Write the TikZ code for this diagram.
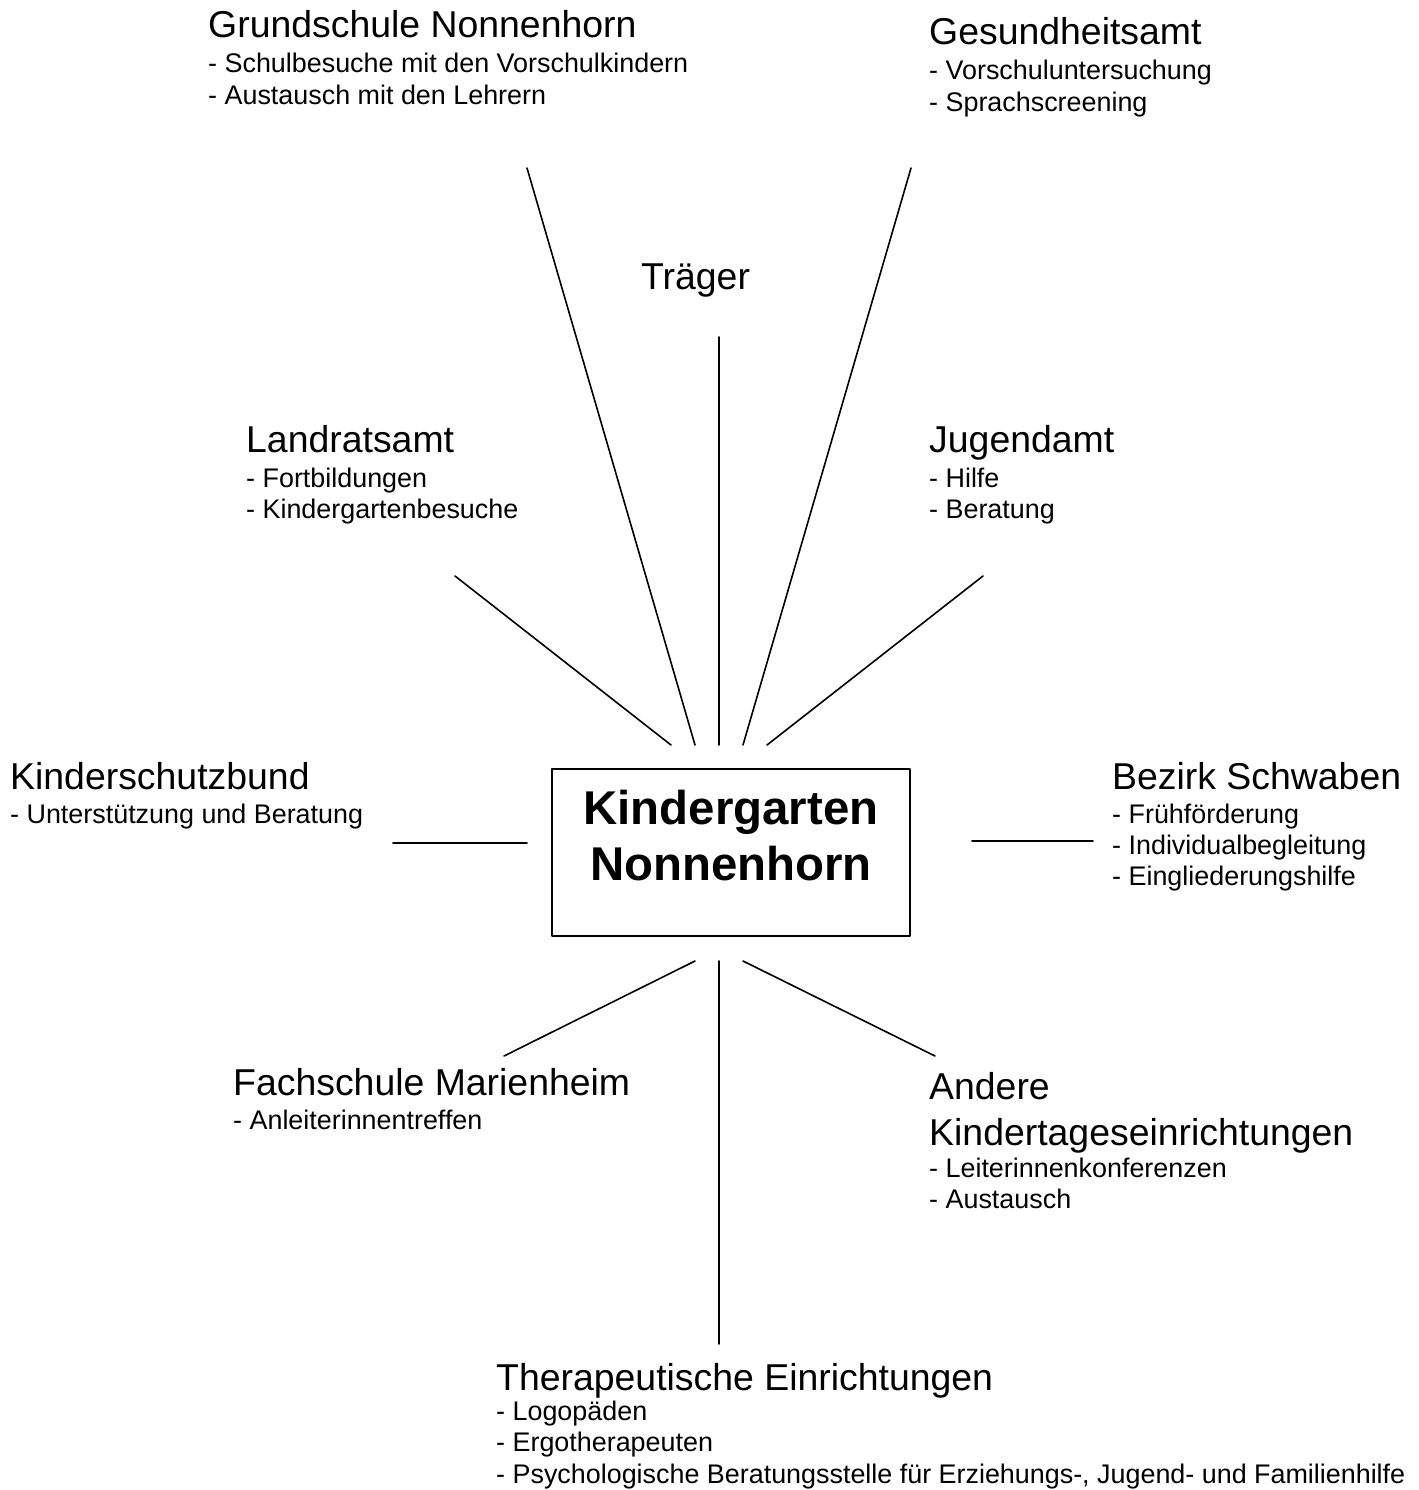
\documentclass[tikz,border=0pt]{standalone}
\usepackage{fontspec}
\setmainfont{Liberation Sans}
\begin{document}
\begin{tikzpicture}[x=1pt,y=-1pt,line join=round,line cap=round,
	head/.style={anchor=base west,inner sep=0pt,align=left,font=\fontsize{37.4}{46}\selectfont},
	items/.style={anchor=base west,inner sep=0pt,align=left,font=\fontsize{26.9}{31.3}\selectfont},
	link/.style={line width=1.6pt}]
	\useasboundingbox (0,0) rectangle (1418,1490);
	\path
	(527,168) coordinate (grund1)	(695,745) coordinate (grund2)
	(911,168) coordinate (gesund1)	(743,745) coordinate (gesund2)
	(719,337) coordinate (traeger1)	(719,745) coordinate (traeger2)
	(455,576) coordinate (landrat1)	(671,745) coordinate (landrat2)
	(983,576) coordinate (jugend1)	(767,745) coordinate (jugend2)
	(393,843) coordinate (schutz1)	(527,843) coordinate (schutz2)
	(972,841) coordinate (bezirk1)	(1093,841) coordinate (bezirk2)
	(504,1056) coordinate (fach1)	(695,961) coordinate (fach2)
	(935,1056) coordinate (andere1)	(743,961) coordinate (andere2)
	(719,1344) coordinate (thera1)	(719,961) coordinate (thera2)
	;
	\foreach \x in {grund,gesund,traeger,landrat,jugend,schutz,bezirk,fach,andere,thera}
	\draw[link] (\x1)--(\x2);
	% Mitte (base = letzte Zeile)
	\node[draw,line width=2pt,minimum width=358pt,minimum height=167pt,inner sep=0pt] (kiga) at (731,852.5) {};
	\node[anchor=base,inner sep=0pt,align=center,font=\bfseries\fontsize{47.4}{56}\selectfont] (kigatext) at (731,880) {Kindergarten\\Nonnenhorn};
	% Partner (bei mehrzeiligen Knoten liegt base auf der letzten Zeile)
	\node[head] (grund) at (208,38) {Grundschule Nonnenhorn};
	\node[items] (grundL) at (208,104.3) {- Schulbesuche mit den Vorschulkindern\\- Austausch mit den Lehrern};
	\node[head] (gesund) at (929,45) {Gesundheitsamt};
	\node[items] (gesundL) at (929,111.3) {- Vorschuluntersuchung\\- Sprachscreening};
	\node[head] (traeger) at (641,289) {Träger};
	\node[head] (landrat) at (246,452) {Landratsamt};
	\node[items] (landratL) at (246,518.3) {- Fortbildungen\\- Kindergartenbesuche};
	\node[head] (jugend) at (929,452) {Jugendamt};
	\node[items] (jugendL) at (929,518.3) {- Hilfe\\- Beratung};
	\node[head] (schutz) at (10,789) {Kinderschutzbund};
	\node[items] (schutzL) at (10,823) {- Unterstützung und Beratung};
	\node[head] (bezirk) at (1112,789) {Bezirk Schwaben};
	\node[items] (bezirkL) at (1112,885.6) {- Frühförderung\\- Individualbegleitung\\- Eingliederungshilfe};
	\node[head] (fach) at (233,1095) {Fachschule Marienheim};
	\node[items] (fachL) at (233,1129) {- Anleiterinnentreffen};
	\node[head] (andere) at (929,1145) {Andere\\Kindertageseinrichtungen};
	\node[items] (andereL) at (929,1208.3) {- Leiterinnenkonferenzen\\- Austausch};
	\node[head] (thera) at (496,1390) {Therapeutische Einrichtungen};
	\node[items] (theraL) at (496,1483) {- Logopäden\\- Ergotherapeuten\\- Psychologische Beratungsstelle für Erziehungs-, Jugend- und Familienhilfe};
\end{tikzpicture}
\end{document}
